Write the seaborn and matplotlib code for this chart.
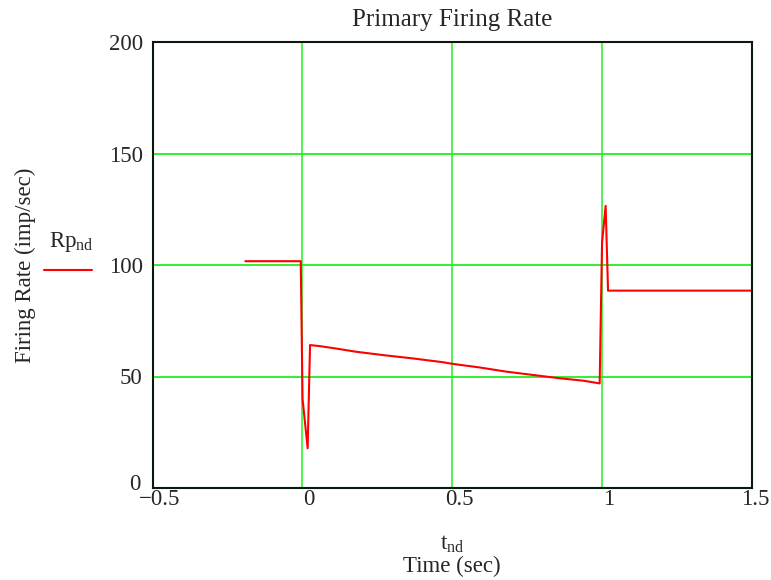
import matplotlib
matplotlib.use("Agg")
import matplotlib.pyplot as plt
import matplotlib.transforms as mtransforms
from matplotlib.lines import Line2D
import pandas as pd
import seaborn as sns

# Primary afferent firing rate over time
t_nd = [-0.19, -0.005, 0.001, 0.018, 0.026, 0.06, 0.11, 0.18, 0.27, 0.37,
        0.47, 0.5, 0.59, 0.68, 0.77, 0.86, 0.94, 0.993, 1.001, 1.013,
        1.021, 1.5]
rp_nd = [101.7, 101.7, 40.0, 17.8, 64.1, 63.6, 62.6, 61.1, 59.6, 58.1,
         56.4, 55.7, 54.1, 52.2, 50.7, 49.2, 48.1, 46.9, 110.0, 126.5,
         88.5, 88.5]

x_ticks = [-0.5, 0, 0.5, 1, 1.5]
x_tick_labels = ["\u22120.5", "0", "0.5", "1", "1.5"]
y_ticks = [0, 50, 100, 150, 200]
y_tick_labels = ["0", "50", "100", "150", "200"]

sns.set_style("white")
plt.rcParams["font.family"] = ["Liberation Serif", "DejaVu Serif"]
plt.rcParams["mathtext.fontset"] = "custom"
plt.rcParams["mathtext.rm"] = "Liberation Serif"
plt.rcParams["mathtext.it"] = "Liberation Serif"

df = pd.DataFrame({"t": t_nd, "rate": rp_nd})

fig = plt.figure(figsize=(7.71, 5.80), dpi=100)
ax = fig.add_axes([152.5 / 771, 1 - 488 / 580, 599 / 771, 446 / 580])

sns.lineplot(data=df, x="t", y="rate", ax=ax, color="#ff0000", lw=1.5,
             estimator=None, sort=False, zorder=3)

ax.set_xlim(-0.5, 1.5)
ax.set_ylim(0, 200)
ax.set_xticks(x_ticks)
ax.set_xticklabels(x_tick_labels, fontsize=16.5)
ax.set_yticks(y_ticks)
ax.set_yticklabels(y_tick_labels, fontsize=16.5)
ax.tick_params(axis="both", length=0)
ax.tick_params(axis="x", pad=1)
ax.tick_params(axis="y", pad=7)
ax.set_xlabel("")
ax.set_ylabel("")

# shift x tick labels slightly right of their grid lines
# (the last one less, so it stays inside the figure)
x_label_shift_px = [7, 7, 7, 7, 4]
for lbl, dx in zip(ax.get_xticklabels(), x_label_shift_px):
    shift = mtransforms.ScaledTranslation(dx / 100, 0, fig.dpi_scale_trans)
    lbl.set_transform(lbl.get_transform() + shift)

# lift the bottom y label a little so it sits above the x labels
lift = mtransforms.ScaledTranslation(-2 / 100, 6 / 100, fig.dpi_scale_trans)
zero_lbl = ax.get_yticklabels()[0]
zero_lbl.set_transform(zero_lbl.get_transform() + lift)

# grid lines at interior ticks only
for xv in x_ticks[1:-1]:
    ax.axvline(xv, color="#22ee22", lw=1.1, zorder=1)
for yv in y_ticks[1:-1]:
    ax.axhline(yv, color="#22ee22", lw=1.3, zorder=1)

for side in ax.spines.values():
    side.set_color("#0a1a0a")
    side.set_linewidth(1.5)
    side.set_zorder(4)

fig.text(452 / 771, 1 - 20 / 580, "Primary Firing Rate", ha="center",
         va="center", fontsize=18)
fig.text(25 / 771, 1 - 265 / 580, "Firing Rate (imp/sec)", rotation=90,
         ha="center", va="center", fontsize=16.5)
fig.text(452 / 771, 1 - 544 / 580, r"t$_{\mathrm{nd}}$", ha="center",
         va="center", fontsize=16.5)
fig.text(452 / 771, 1 - 566 / 580, "Time (sec)", ha="center",
         va="center", fontsize=16.5)

# series key
fig.text(71 / 771, 1 - 242 / 580, r"Rp$_{\mathrm{nd}}$", ha="center",
         va="center", fontsize=16.5)
fig.add_artist(Line2D([44 / 771, 92 / 771], [1 - 270 / 580, 1 - 270 / 580],
                      transform=fig.transFigure, color="#ff0000", lw=1.5))

fig.savefig("out.png", dpi=100)
